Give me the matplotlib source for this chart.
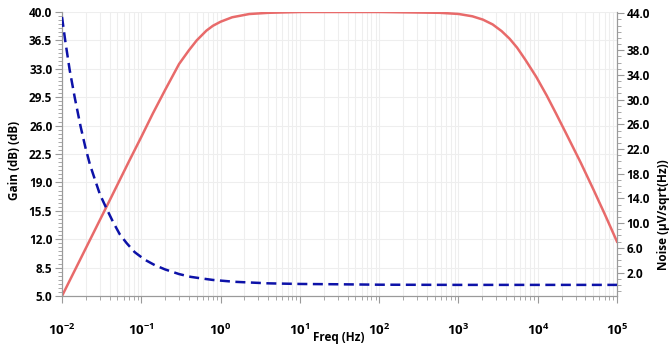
import matplotlib
matplotlib.use("Agg")
import matplotlib.pyplot as plt
from matplotlib.ticker import FixedLocator, MultipleLocator, LogLocator, NullFormatter, FuncFormatter
import numpy as np

plt.rcParams["font.family"] = ["Open Sans", "DejaVu Sans"]
plt.rcParams["mathtext.fontset"] = "custom"
plt.rcParams["mathtext.rm"] = "Open Sans"
plt.rcParams["mathtext.bf"] = "Open Sans:bold"

# ── data ──────────────────────────────────────────────────────────────────────
freq_gain = [0.01, 0.02, 0.04, 0.07, 0.1, 0.14, 0.2, 0.3, 0.4, 0.5,
             0.662, 0.8, 1.0, 1.4, 2.3, 4.0, 10, 100, 580, 1000, 1500, 2037,
             2700, 3500, 4426, 5500, 7000, 9594, 13000, 17000, 22900, 35000,
             50000, 70000, 1e5]
gain_db = [5.0, 10.9, 16.8, 21.6, 24.6, 27.5, 30.4, 33.6, 35.3, 36.5,
           37.7, 38.3, 38.8, 39.35, 39.75, 39.9, 40.0, 40.0, 39.9, 39.76, 39.47, 39.06,
           38.47, 37.65, 36.7, 35.6, 34.1, 32.0, 29.7, 27.5, 25.0, 21.4,
           18.2, 15.1, 11.7]

freq_noise = [0.01, 0.011, 0.0125, 0.0145, 0.0172, 0.0197, 0.0225, 0.0258, 0.03,
              0.0363, 0.044, 0.0535, 0.065, 0.0826, 0.11, 0.148, 0.2, 0.3, 0.42,
              0.573, 0.8, 1.5, 4.0, 10, 30, 100, 1e3, 1e4, 1e5]
noise = [43.4, 39.5, 34.8, 30.3, 25.6, 22.3, 19.5, 17.2, 14.7,
         12.4, 10.2, 8.2, 6.8, 5.3, 4.1, 3.2, 2.5, 1.75, 1.3,
         1.05, 0.8, 0.5, 0.25, 0.15, 0.1, 0.03, 0.0, 0.0, 0.0]

gain_ticks = [5.0, 8.5, 12.0, 15.5, 19.0, 22.5, 26.0, 29.5, 33.0, 36.5, 40.0]
noise_ticks = [2.0, 6.0, 10.0, 14.0, 18.0, 22.0, 26.0, 30.0, 34.0, 38.0, 44.0]

RED = "#e86a6a"
BLUE = "#0d12a8"
SPINE = "#9a9a9a"
GRID = "#eeeeee"

fig = plt.figure(figsize=(6.69, 3.45), dpi=100)
ax = fig.add_axes([62 / 669, 49 / 345, 555 / 669, 284 / 345])
ax2 = ax.twinx()

ax.plot(freq_gain, gain_db, color=RED, lw=1.8, zorder=3)
ax2.plot(freq_noise, noise, color=BLUE, lw=1.8, ls=(0, (4, 2.2)), zorder=3)

ax.set_xscale("log")
ax.set_xlim(0.01, 1e5)
ax.set_ylim(5, 40)
ax2.set_ylim(-1.8, 44.2)

ax.xaxis.set_major_locator(LogLocator(base=10, numticks=12))
ax.xaxis.set_minor_locator(LogLocator(base=10, subs=range(2, 10), numticks=12))
ax.xaxis.set_minor_formatter(NullFormatter())
ax.xaxis.set_major_formatter(FuncFormatter(
    lambda v, _: r"$\mathbf{10^{%d}}$" % int(round(np.log10(v)))))

ax.yaxis.set_major_locator(FixedLocator(gain_ticks))
ax.yaxis.set_minor_locator(MultipleLocator(0.5))
ax.set_yticklabels([f"{v:.1f}" for v in gain_ticks])

ax2.yaxis.set_major_locator(FixedLocator(noise_ticks))
ax2.yaxis.set_minor_locator(MultipleLocator(1))
ax2.set_yticklabels([f"{v:.1f}" for v in noise_ticks])

ax.grid(True, which="major", axis="y", color=GRID, lw=0.8)
ax.grid(True, which="both", axis="x", color=GRID, lw=0.8)
ax.set_axisbelow(True)

for a in (ax, ax2):
    a.spines["top"].set_visible(False)
    for s in ("left", "right", "bottom"):
        a.spines[s].set_color(SPINE)
        a.spines[s].set_linewidth(0.8)
    a.tick_params(which="major", length=5, color=SPINE, width=0.8)
    a.tick_params(which="minor", length=3, color=SPINE, width=0.6)
    for lab in a.get_yticklabels():
        lab.set_fontweight("bold")
        lab.set_fontsize(8.5)

ax.tick_params(axis="x", which="major", pad=14, labelsize=9.5)
ax.tick_params(axis="y", pad=2)
ax2.tick_params(axis="y", pad=2)

fig.text(15 / 669, 1 - 160 / 345, "Gain (dB) (dB)", rotation=90, ha="center", va="center",
         fontsize=8.5, fontweight="bold")
fig.text(339 / 669, 1 - 337 / 345, "Freq (Hz)", ha="center", va="center",
         fontsize=8.5, fontweight="bold")
fig.text(663 / 669, 1 - 215 / 345, "Noise (µV/sqrt(Hz))", rotation=90, ha="center", va="center",
         fontsize=8.5, fontweight="bold")

fig.savefig("out.png", dpi=100)
